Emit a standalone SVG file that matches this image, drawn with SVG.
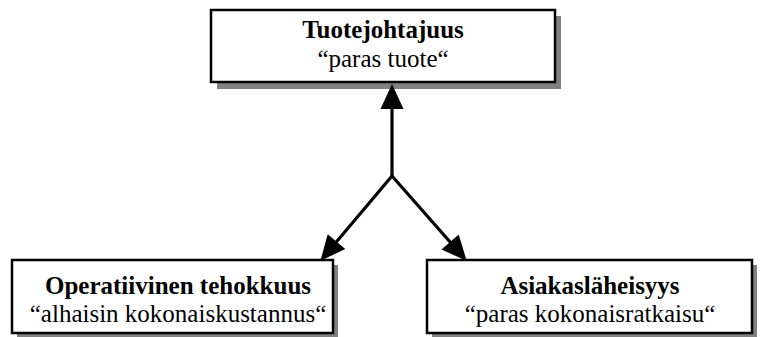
<svg xmlns="http://www.w3.org/2000/svg" width="765" height="337" viewBox="0 0 765 337">
  <defs>
    <style>
      .shadow { fill: #808080; }
      .box { fill: #ffffff; stroke: #000000; stroke-width: 2.5; }
      text { font-family: 'Liberation Serif', 'DejaVu Serif', serif; font-size: 25px; fill: #000000; text-anchor: middle; }
      .title { font-weight: bold; }
      .sub { font-weight: normal; }
      .link { fill: none; stroke: #000000; stroke-width: 3.2; stroke-linecap: round; }
    </style>
    <marker id="arrow" markerUnits="userSpaceOnUse" markerWidth="26" markerHeight="24" refX="0" refY="11.5" orient="auto" overflow="visible">
      <path d="M0,0 L25,11.5 L0,23 Z" fill="#000000"/>
    </marker>
  </defs>

  <!-- Top node -->
  <g id="tuotejohtajuus">
    <rect class="shadow" x="217" y="16" width="344" height="73"/>
    <rect class="box" x="211" y="10" width="344" height="72"/>
    <text class="title" x="383" y="38">Tuotejohtajuus</text>
    <text class="sub" x="383" y="67">“paras tuote“</text>
  </g>

  <!-- Bottom-left node -->
  <g id="operatiivinen-tehokkuus">
    <rect class="shadow" x="17" y="265" width="321" height="73"/>
    <rect class="box" x="12" y="260" width="321" height="73"/>
    <text class="title" x="178" y="294">Operatiivinen tehokkuus</text>
    <text class="sub" x="178" y="322">“alhaisin kokonaiskustannus“</text>
  </g>

  <!-- Bottom-right node -->
  <g id="asiakaslaheisyys">
    <rect class="shadow" x="432" y="265" width="325" height="73"/>
    <rect class="box" x="427" y="260" width="325" height="73"/>
    <text class="title" x="590" y="294">Asiakasläheisyys</text>
    <text class="sub" x="590" y="322">“paras kokonaisratkaisu“</text>
  </g>

  <!-- Connectors from the branching point -->
  <g id="connectors">
    <path class="link" d="M392,176 L392,109" marker-end="url(#arrow)"/>
    <path class="link" d="M392,176 L336.5,241.7" marker-end="url(#arrow)"/>
    <path class="link" d="M392,176 L450.1,242" marker-end="url(#arrow)"/>
  </g>
</svg>
